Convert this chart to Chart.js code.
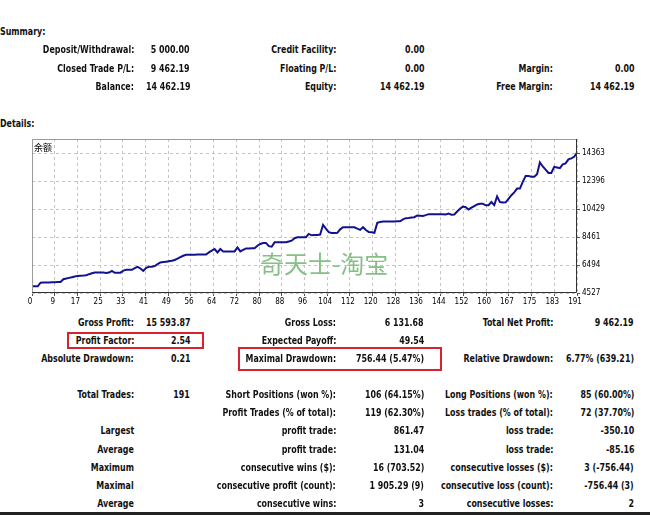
<!DOCTYPE html>
<html>
<head>
<meta charset="utf-8">
<script src="https://cdn.jsdelivr.net/npm/chart.js@4.4.1/dist/chart.umd.min.js"></script>
<style>
  body { margin: 0; background: #fff; }
  #page { position: relative; width: 650px; height: 515px; overflow: hidden; background: #fff;
    font-family: "DejaVu Sans Condensed", "DejaVu Sans", sans-serif; font-weight: bold;
    font-size: 11px; color: #111; }
  .t { position: absolute; white-space: nowrap; line-height: 14px; height: 14px;
    transform: scaleX(0.8); transform-origin: right center; }
  .l { transform-origin: left center; }
  .box { position: absolute; border: 2px solid #d8222e; box-sizing: border-box; }
  #chartWrap { position: absolute; left: 0; top: 130px; width: 625px; height: 180px; }
  #mark { position: absolute; left: 260px; top: 245px; font-family: "Noto Sans CJK SC", sans-serif;
    font-weight: normal; font-size: 24px; color: #86c086; white-space: nowrap; }
  #bal { position: absolute; left: 34px; top: 141px; font-family: "Noto Sans CJK SC", sans-serif;
    font-weight: normal; font-size: 9px; color: #000; }
  #bar { position: absolute; left: 0; top: 512px; width: 650px; height: 3px; background: #222; }
</style>
</head>
<body>
<div id="page">
  <div class="t l" style="left:0;top:25px">Summary:</div>
  <div class="t l" style="left:0;top:117px">Details:</div>
  <div id="chartWrap"><canvas id="balanceChart"></canvas></div>
  <div id="bal">余额</div>
  <div id="mark">奇天士-淘宝</div>
  <div class="box" style="left:67px;top:332px;width:137px;height:17px"></div>
  <div class="box" style="left:238px;top:347px;width:204px;height:24px"></div>
  <div id="bar"></div>
</div>
<script>
// balance after each closed trade (trade 0 = deposit)
const balance = [
  5000, 5000, 5000, 5256, 5260, 5265, 5270, 5280,
  5290, 5300, 5300, 5495, 5540, 5590, 5640, 5690,
  5730, 5740, 5750, 5780, 5850, 5910, 5963, 5963,
  5965, 5960, 5930, 5960, 6083, 5950, 5950, 5955,
  6100, 6155, 6160, 6160, 6280, 6367, 6250, 6083,
  6300, 6367, 6380, 6420, 6550, 6671, 6700, 6730,
  6760, 6791, 6850, 6950, 7050, 7145, 7216, 7216,
  7220, 7220, 7225, 7225, 7230, 7230, 7379, 7500,
  7619, 7379, 7619, 7450, 7450, 7440, 7450, 7450,
  7732, 7450, 7560, 7662, 7662, 7670, 7670, 7850,
  7973, 8044, 8044, 7820, 7782, 8087, 8087, 8090,
  8090, 8095, 8150, 8207, 8380, 8440, 8440, 8450,
  8450, 8680, 8580, 8600, 8600, 8631, 9317, 9050,
  8800, 8751, 8751, 8760, 9000, 9148, 9148, 9150,
  9150, 9148, 9050, 8963, 9148, 8950, 8820, 8795,
  8751, 9456, 9510, 9551, 9551, 9560, 9560, 9560,
  9565, 9570, 9700, 9785, 9800, 9830, 9855, 9976,
  9960, 9940, 10000, 10067, 10067, 10067, 10070, 10070,
  10067, 10040, 10110, 10030, 10040, 10250, 10450, 10600,
  10560, 10400, 10520, 10640, 10750, 10803, 10803, 10690,
  10700, 10917, 10700, 11320, 10917, 10880, 10900, 11150,
  11400, 11600, 11865, 11865, 12332, 12756, 12756, 12700,
  12700, 12877, 13705, 13420, 13200, 12968, 12968, 13393,
  13350, 13300, 13563, 13634, 13917, 13988, 14100, 14380
];
const trades = balance.map((v, i) => i);
const xTickLabels = [0, 9, 17, 25, 33, 41, 49, 56, 64, 72, 80, 88, 96,
  104, 112, 120, 128, 136, 144, 152, 160, 167, 175, 183, 191];
const yTickLabels = [4527, 6494, 8461, 10429, 12396, 14363];

// report rows: y centre and six cells (label, value) x 3 columns
const colRight = [134, 190, 336, 424, 553, 634];
const rows = [
  [50, 'Deposit/Withdrawal:', '5 000.00', 'Credit Facility:', '0.00', '', ''],
  [69, 'Closed Trade P/L:', '9 462.19', 'Floating P/L:', '0.00', 'Margin:', '0.00'],
  [87, 'Balance:', '14 462.19', 'Equity:', '14 462.19', 'Free Margin:', '14 462.19'],
  [323, 'Gross Profit:', '15 593.87', 'Gross Loss:', '6 131.68', 'Total Net Profit:', '9 462.19'],
  [341, 'Profit Factor:', '2.54', 'Expected Payoff:', '49.54', '', ''],
  [359, 'Absolute Drawdown:', '0.21', 'Maximal Drawdown:', '756.44 (5.47%)', 'Relative Drawdown:', '6.77% (639.21)'],
  [395, 'Total Trades:', '191', 'Short Positions (won %):', '106 (64.15%)', 'Long Positions (won %):', '85 (60.00%)'],
  [413, '', '', 'Profit Trades (% of total):', '119 (62.30%)', 'Loss trades (% of total):', '72 (37.70%)'],
  [431, 'Largest', '', 'profit trade:', '861.47', 'loss trade:', '-350.10'],
  [450, 'Average', '', 'profit trade:', '131.04', 'loss trade:', '-85.16'],
  [468, 'Maximum', '', 'consecutive wins ($):', '16 (703.52)', 'consecutive losses ($):', '3 (-756.44)'],
  [486, 'Maximal', '', 'consecutive profit (count):', '1 905.29 (9)', 'consecutive loss (count):', '-756.44 (3)'],
  [504, 'Average', '', 'consecutive wins:', '3', 'consecutive losses:', '2']
];

const page = document.getElementById('page');
rows.forEach(r => {
  for (let c = 0; c < 6; c++) {
    if (!r[c + 1]) continue;
    const d = document.createElement('div');
    d.className = 't';
    d.textContent = r[c + 1];
    d.style.right = (650 - colRight[c]) + 'px';
    d.style.top = (r[0] - 7) + 'px';
    page.appendChild(d);
  }
});

// frame round the plot: light on top/left, dark on right/bottom
const framePlugin = {
  id: 'frame',
  afterDraw(chart) {
    const { ctx, chartArea: a } = chart;
    ctx.save();
    ctx.lineWidth = 1;
    ctx.strokeStyle = '#9a9a9a';
    ctx.beginPath();
    ctx.moveTo(a.left + 0.5, a.bottom);
    ctx.lineTo(a.left + 0.5, a.top + 0.5);
    ctx.lineTo(a.right, a.top + 0.5);
    ctx.stroke();
    ctx.strokeStyle = '#333';
    ctx.beginPath();
    ctx.moveTo(a.right - 0.5, a.top);
    ctx.lineTo(a.right - 0.5, a.bottom - 0.5);
    ctx.lineTo(a.left, a.bottom - 0.5);
    ctx.stroke();
    ctx.restore();
  }
};

const tickFont = { family: '"DejaVu Sans Condensed", sans-serif', size: 8 };

new Chart(document.getElementById('balanceChart'), {
  type: 'line',
  data: {
    labels: trades,
    datasets: [{
      data: balance,
      borderColor: '#12128e',
      borderWidth: 2,
      pointRadius: 0,
      tension: 0,
      fill: false
    }]
  },
  options: {
    responsive: true,
    maintainAspectRatio: false,
    animation: false,
    layout: { padding: { left: 32, top: 9, right: 8, bottom: 1 } },
    plugins: { legend: { display: false }, tooltip: { enabled: false } },
    scales: {
      x: {
        type: 'linear',
        min: 0,
        max: 191,
        afterBuildTicks: s => { s.ticks = xTickLabels.map((_, i) => ({ value: i * 191 / 24 })); },
        afterFit: s => { s.height = 16; },
        ticks: {
          autoSkip: false,
          maxRotation: 0,
          padding: 1,
          labelOffset: -2,
          color: '#000',
          font: tickFont,
          callback: (v, i) => xTickLabels[i]
        },
        grid: { color: '#c4c4c4', tickLength: 3, tickColor: '#555', tickBorderDash: [] },
        border: { display: false, dash: [3, 3] }
      },
      y: {
        position: 'right',
        min: 4527,
        max: 15350,
        afterBuildTicks: s => { s.ticks = yTickLabels.map(v => ({ value: v })); },
        afterFit: s => { s.width = 40; },
        ticks: { color: '#000', font: tickFont, padding: 2, callback: v => v },
        grid: { color: '#c4c4c4', tickLength: 3, tickColor: '#555', tickBorderDash: [] },
        border: { display: false, dash: [3, 3] }
      }
    }
  },
  plugins: [framePlugin]
});
</script>
</body>
</html>
